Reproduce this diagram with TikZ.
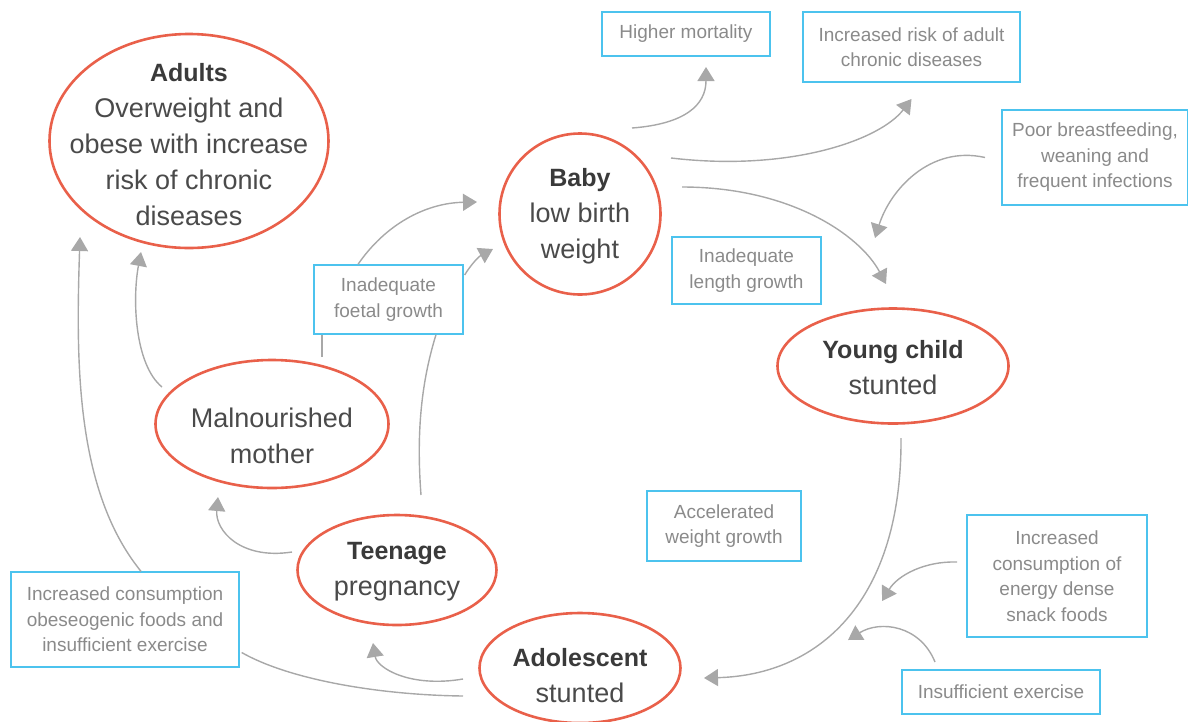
\documentclass[tikz,border=0pt]{standalone}
\usepackage{fontspec}
\setmainfont{Liberation Sans}
\usetikzlibrary{arrows.meta,positioning,shapes.geometric,calc}

\definecolor{stageorange}{HTML}{E9604A}
\definecolor{boxblue}{HTML}{4CC3EE}
\definecolor{arrowgray}{HTML}{A8A8A8}
\definecolor{stagetextc}{HTML}{4A4A4A}
\definecolor{headc}{HTML}{3A3A3A}
\definecolor{boxtextc}{HTML}{8A8A8A}

\newcommand{\stagehead}[1]{{\fontsize{25}{36}\selectfont\bfseries\color{headc}#1}}

\begin{document}
\begin{tikzpicture}[
    x=1pt, y=-1pt,
    stage/.style={ellipse, draw=stageorange, line width=2.6pt, inner sep=0pt},
    stagetext/.style={align=center, text=stagetextc, font=\fontsize{27}{36}\selectfont},
    effect/.style={draw=boxblue, line width=1.3pt, align=center, text=boxtextc, font=\fontsize{19}{25.5}\selectfont, inner sep=0pt},
    link/.style={draw=arrowgray, line width=1.4pt},
    >={Triangle[length=14pt,width=17pt]}
]
\useasboundingbox (0,0) rectangle (1188,721);

% stages of the life course
\node[stage, minimum width=279pt, minimum height=214pt] (adults) at (189,141) {};
\node[stagetext] (adultstext) at (189,145) {\stagehead{Adults}\\Overweight and\\obese with increase\\risk of chronic\\diseases};
\node[stage, minimum width=161pt, minimum height=161pt] (baby) at (580,214) {};
\node[stagetext] (babytext) at (580,216) {\stagehead{Baby}\\low birth\\weight};
\node[stage, minimum width=231pt, minimum height=115pt] (young) at (893,366) {};
\node[stagetext] (youngtext) at (893,368) {\stagehead{Young child}\\stunted};
\node[stage, minimum width=233pt, minimum height=128pt] (mother) at (272,424) {};
\node[stagetext] (mothertext) at (272,436) {Malnourished\\mother};
\node[stage, minimum width=199pt, minimum height=110pt] (teen) at (397,570) {};
\node[stagetext] (teentext) at (397,572) {\stagehead{Teenage}\\pregnancy};
\node[stage, minimum width=201pt, minimum height=110pt] (adol) at (580,668) {};
\node[stagetext] (adoltext) at (580,676) {\stagehead{Adolescent}\\stunted};

% causes and consequences
\node[effect, minimum width=168pt, minimum height=44pt] (mortality) at (686,34) {Higher mortality};
\node[effect, minimum width=217pt, minimum height=70pt] (chronic) at (911.5,47) {Increased risk of adult\\chronic diseases};
\node[effect, minimum width=186pt, minimum height=95pt] (feeding) at (1095,157.5) {Poor breastfeeding,\\weaning and\\frequent infections};
\node[effect, minimum width=149pt, minimum height=67pt] (lengthgr) at (746.5,270.5) {Inadequate\\length growth};
\node[effect, minimum width=149pt, minimum height=69pt] (foetal) at (388.5,299.5) {Inadequate\\foetal growth};
\node[effect, minimum width=154pt, minimum height=70pt] (accel) at (724,526) {Accelerated\\weight growth};
\node[effect, minimum width=180pt, minimum height=122pt] (snack) at (1057,576) {Increased\\consumption of\\energy dense\\snack foods};
\node[effect, minimum width=198pt, minimum height=44pt] (exercise) at (1001,692) {Insufficient exercise};
\node[effect, minimum width=228pt, minimum height=95pt] (obeso) at (125,619.5) {Increased consumption\\obeseogenic foods and\\insufficient exercise};

\coordinate (feedtip) at (875,238);
\coordinate (snacktip) at (882,601);
\coordinate (exertip) at (848,640);

% baby and young child
\draw[link,->] ($(baby)+(52,-86)$) .. controls (685,124) and (706,105) .. ($(mortality)+(20,33)$);
\draw[link,->] ($(baby)+(91,-56)$) .. controls (790,172) and (880,140) .. ($(chronic)+(0,52)$);
\draw[link,->] ($(baby)+(102,-27)$) .. controls (790,187) and (860,235) .. ($(young)+(-7,-82)$);
\draw[link,->] ($(feeding)+(-110,0)$) .. controls (930,145) and (890,190) .. (feedtip);
\draw[link,->] ($(young)+(8,72)$) .. controls (902,600) and (820,675) .. ($(adol)+(124,10)$);
\draw[link,->] ($(snack)+(-100,-14)$) .. controls (925,561) and (898,575) .. (snacktip);
\draw[link,->] ($(exercise)+(-66,-30)$) .. controls (920,625) and (880,620) .. (exertip);

% adolescent to adult and mother
\draw[link,->] ($(adol)+(-117,11)$) .. controls (410,688) and (377,668) .. ($(teen)+(-24,73)$);
\draw[link] ($(adol)+(-117,28)$) .. controls (380,695) and (290,680) .. ($(obeso.east)+(2,33)$);
\draw[link,->] ($(obeso.north)+(16,0)$) .. controls (75,490) and (76,360) .. ($(adults)+(-109,96)$);
\draw[link,->] ($(mother)+(-110,-37)$) .. controls (135,365) and (132,300) .. ($(adults)+(-48,111)$);
\draw[link,->] ($(teen)+(-105,-18)$) .. controls (240,560) and (215,530) .. ($(mother)+(-54,73)$);

% back to the baby
\draw[link] ($(mother)+(50,-67)$) -- ($(foetal.south)+(-66.5,0)$);
\draw[link] ($(teen)+(24,-75)$) .. controls (416,430) and (422,380) .. ($(foetal.south)+(47.5,0)$);
\draw[link,->] ($(foetal.north)+(-30.5,0)$) .. controls (385,225) and (425,203) .. ($(baby)+(-103,-12)$);
\draw[link,->] ($(foetal.east)+(1,-24.5)$) .. controls (470,266) and (478,257) .. ($(baby)+(-87,35)$);
\end{tikzpicture}
\end{document}
